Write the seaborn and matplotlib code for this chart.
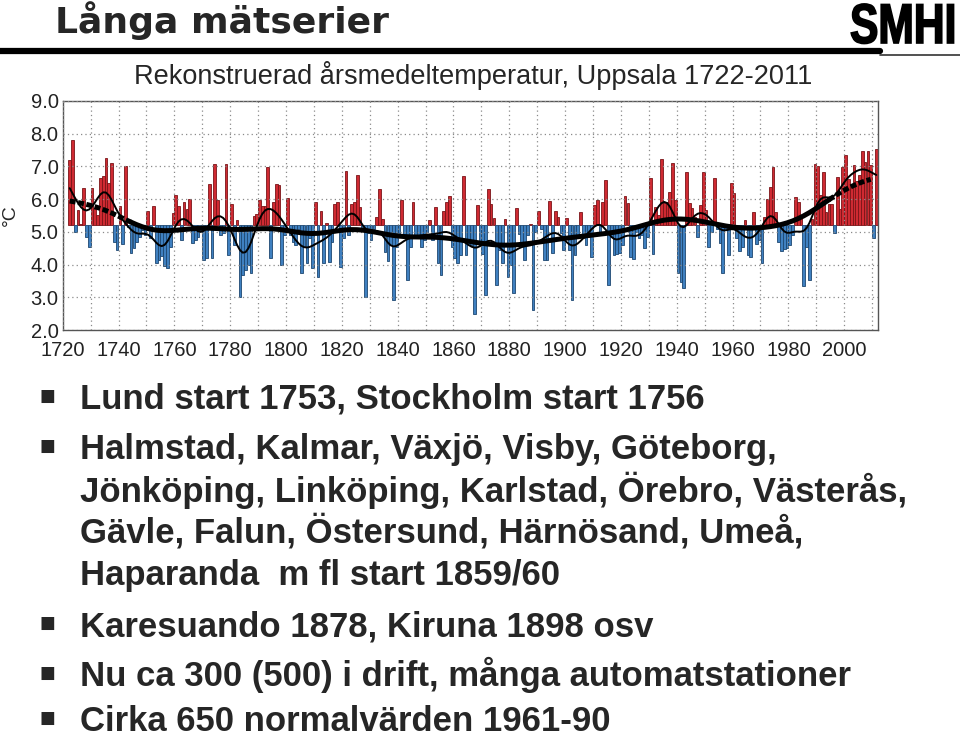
import numpy as np
import pandas as pd
import matplotlib
matplotlib.use("Agg")
import matplotlib.pyplot as plt
import seaborn as sns
from matplotlib.textpath import TextPath
from matplotlib.patches import PathPatch
from matplotlib.font_manager import FontProperties
from matplotlib.transforms import Affine2D

# annual mean temperature Uppsala (deg C), one list per decade
t1720s = [7.2, 7.8, 5.0, 5.67, 5.25, 6.33, 4.85, 4.55]            # 1722-1729
t1730s = [6.35, 5.7, 5.5, 6.65, 6.7, 7.25, 6.5, 7.1, 4.68, 4.45]
t1740s = [5.8, 4.63, 7.0, 5.15, 4.35, 4.5, 4.7, 4.85, 5.05, 4.9]
t1750s = [5.65, 4.8, 5.8, 4.05, 4.15, 4.25, 3.95, 3.9, 4.55, 5.57]
t1760s = [6.13, 5.8, 4.75, 5.92, 5.7, 6.0, 4.67, 4.75, 4.85, 5.05]
t1770s = [4.14, 4.19, 6.45, 4.19, 7.07, 5.97, 4.9, 4.97, 7.07, 4.29]
t1780s = [5.85, 4.6, 5.36, 3.02, 3.68, 3.83, 4.0, 3.75, 5.48, 5.56]
t1790s = [5.97, 5.8, 5.8, 6.99, 4.2, 5.9, 6.45, 6.43, 3.98, 4.9]
t1800s = [6.02, 4.9, 4.7, 4.6, 5.1, 3.73, 4.55, 4.04, 4.8, 3.9]
t1810s = [5.9, 3.63, 5.65, 4.04, 5.27, 4.09, 4.7, 5.85, 5.9, 3.93]
t1820s = [4.8, 6.86, 4.9, 5.85, 5.9, 6.74, 5.77, 5.05, 3.02, 4.95]
t1830s = [4.75, 5.1, 5.46, 6.3, 5.4, 4.39, 4.12, 4.6, 2.93, 4.55]
t1840s = [4.85, 5.97, 4.9, 3.53, 4.55, 5.9, 4.9, 4.8, 4.55, 4.75]
t1850s = [5.0, 5.36, 4.75, 5.77, 4.04, 3.67, 5.65, 5.92, 6.1, 4.55]
t1860s = [4.2, 4.05, 4.3, 6.7, 4.3, 4.6, 4.6, 2.5, 5.82, 4.6]
t1870s = [4.32, 3.07, 6.3, 5.85, 5.41, 3.37, 4.44, 4.06, 5.4, 3.63]
t1880s = [3.98, 3.12, 5.72, 4.93, 4.6, 4.14, 4.9, 5.25, 2.6, 5.0]
t1890s = [5.65, 5.08, 4.14, 4.14, 5.94, 4.36, 5.65, 5.46, 4.95, 4.46]
t1900s = [5.41, 4.44, 2.91, 4.3, 4.8, 5.62, 4.8, 4.6, 4.85, 4.24]
t1910s = [5.82, 5.97, 4.9, 5.9, 6.58, 3.37, 4.85, 4.29, 4.32, 4.34]
t1920s = [4.6, 6.1, 5.87, 4.24, 4.16, 5.0, 4.8, 4.9, 4.5, 4.85]
t1930s = [6.64, 4.32, 5.77, 5.5, 7.23, 5.87, 5.92, 6.23, 7.11, 5.97]
t1940s = [3.73, 3.47, 3.27, 6.84, 5.87, 5.72, 5.46, 4.85, 5.82, 6.84]
t1950s = [5.67, 4.55, 5.0, 6.66, 5.1, 4.67, 3.75, 5.05, 4.29, 6.5]
t1960s = [6.2, 4.8, 4.42, 4.54, 5.36, 4.29, 4.24, 5.6, 4.64, 4.75]
t1970s = [4.04, 5.44, 6.0, 6.37, 6.98, 5.6, 4.7, 4.42, 4.48, 4.52]
t1980s = [4.6, 4.9, 6.07, 5.91, 5.5, 3.35, 4.55, 3.53, 5.4, 7.08]
t1990s = [7.0, 6.12, 6.83, 5.6, 5.85, 5.85, 4.95, 6.68, 5.7, 6.98]
t2000s = [7.34, 6.62, 6.47, 7.05, 6.55, 6.75, 7.47, 7.13, 7.47, 7.05, 4.8, 7.54]  # 2000-2011

temps = np.concatenate([t1720s, t1730s, t1740s, t1750s, t1760s, t1770s, t1780s,
                        t1790s, t1800s, t1810s, t1820s, t1830s, t1840s, t1850s,
                        t1860s, t1870s, t1880s, t1890s, t1900s, t1910s, t1920s,
                        t1930s, t1940s, t1950s, t1960s, t1970s, t1980s, t1990s,
                        t2000s])
years = np.arange(1722, 1722 + len(temps))
base = 5.2

x_labels = list(range(1720, 2001, 20))
y_labels = [2.0, 3.0, 4.0, 5.0, 6.0, 7.0, 8.0, 9.0]

title = "Långa mätserier"
subtitle = "Rekonstruerad årsmedeltemperatur, Uppsala 1722-2011"
lines = [
    ("Lund start 1753, Stockholm start 1756", True),
    ("Halmstad, Kalmar, Växjö, Visby, Göteborg,", True),
    ("Jönköping, Linköping, Karlstad, Örebro, Västerås,", False),
    ("Gävle, Falun, Östersund, Härnösand, Umeå,", False),
    ("Haparanda  m fl start 1859/60", False),
    ("Karesuando 1878, Kiruna 1898 osv", True),
    ("Nu ca 300 (500) i drift, många automatstationer", True),
    ("Cirka 650 normalvärden 1961-90", True),
]
baselines = [409, 459, 502, 543, 585, 636, 686, 731]


def smooth(v, sigma):
    i = np.arange(len(v))
    w = np.exp(-0.5 * ((i[:, None] - i[None, :]) / sigma) ** 2)
    return w @ v / w.sum(axis=1)


red, red_edge = "#cf2a32", "#7a1418"
blue, blue_edge = "#3f80c0", "#1d4770"

sns.set_theme(style="white")
plt.rcParams["font.family"] = ["Liberation Sans", "DejaVu Sans"]

W, H = 960, 738
fig = plt.figure(figsize=(9.6, 7.38), dpi=100, facecolor="white")
ax = fig.add_axes([62.7 / W, 1 - 330 / H, (877.7 - 62.7) / W, (330 - 101) / H])

df = pd.DataFrame({"year": years + 0.5, "anom": temps - base,
                   "sign": np.where(temps >= base, "warm", "cold")})
sns.barplot(data=df, x="year", y="anom", hue="sign", orient="x", native_scale=True,
            palette={"warm": red, "cold": blue}, saturation=1, width=0.97,
            bottom=base, errorbar=None, legend=False, linewidth=0.6, ax=ax)
for p in ax.patches:
    p.set_edgecolor(red_edge if p.get_height() >= 0 else blue_edge)

thin = smooth(temps, 3.0)
thick = smooth(temps, 10.0)
xs = years + 0.5
sns.lineplot(x=xs, y=thin, color="black", linewidth=1.4, ax=ax, zorder=4)
mid = (years >= 1744) & (years <= 1994)
sns.lineplot(x=xs[mid], y=thick[mid], color="black", linewidth=3.6, ax=ax, zorder=5)
for m in [(years <= 1744), (years >= 1994) & (years <= 2009)]:
    sns.lineplot(x=xs[m], y=thick[m], color="black", linewidth=3.6,
                 linestyle=(0, (1.2, 0.5)), ax=ax, zorder=5)

ax.set_xlim(1720, 2012)
ax.set_ylim(2.0, 9.0)
ax.set_xticks(x_labels)
ax.set_xticklabels([str(v) for v in x_labels])
ax.set_xticks(range(1730, 2012, 10), minor=True)
ax.set_yticks(y_labels)
ax.set_yticklabels([f"{v:.1f}" for v in y_labels])
ax.grid(True, which="both", color="#8a8a8a", linestyle=(0, (1, 2.5)), linewidth=0.9)
ax.set_axisbelow(False)
ax.tick_params(axis="both", which="both", length=0, labelsize=14.5, colors="#222222")
ax.tick_params(axis="x", pad=8)
ax.tick_params(axis="y", pad=3)
ax.set_xlabel("")
ax.set_ylabel("")
for s in ax.spines.values():
    s.set_color("#555555")
    s.set_linewidth(1.0)
    s.set_visible(True)

fig.text(10 / W, 1 - 215 / H, "°C", rotation=90, fontsize=14, ha="center", va="center")

# header
fig.text(55 / W, 1 - 33 / H, title, fontsize=26, fontweight="bold",
         family=["DejaVu Sans"], ha="left", va="baseline")
# condensed SMHI logotype drawn as a horizontally squeezed text path
logo = TextPath((0, 0), "SMHI", size=56,
                prop=FontProperties(family="Liberation Sans", weight="bold"))
logo_tr = Affine2D().scale(0.76 / 100, 1 / 100).translate(8.5, (H - 43) / 100) + fig.dpi_scale_trans
fig.add_artist(PathPatch(logo, transform=logo_tr, facecolor="black", edgecolor="black", lw=1.2))
fig.add_artist(plt.Line2D([0, 880 / W], [1 - 51 / H] * 2, color="black", linewidth=4.5))
fig.add_artist(plt.Line2D([880 / W, 1], [1 - 55 / H] * 2, color="#333333", linewidth=1.2))
fig.text(473 / W, 1 - 84 / H, subtitle, fontsize=19.5, ha="center", va="baseline")

# bullet list
for (txt, bullet), yb in zip(lines, baselines):
    fig.text(80 / W, 1 - yb / H, txt, fontsize=25, fontweight="bold",
             ha="left", va="baseline")
    if bullet:
        fig.text(47 / W, 1 - (yb - 13) / H, "■", fontsize=12,
                 family=["DejaVu Sans"], ha="center", va="center")

fig.savefig("out.png", dpi=100, facecolor="white")
